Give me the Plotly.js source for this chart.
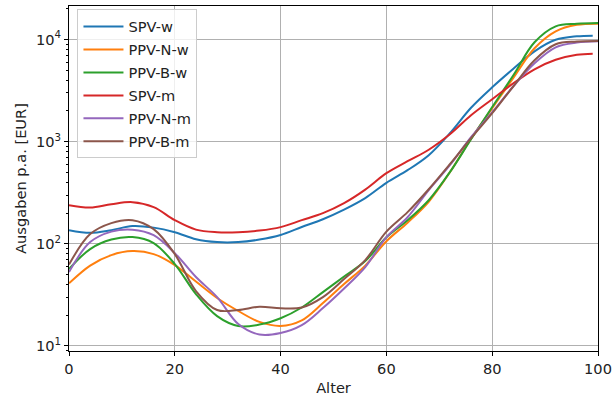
<!DOCTYPE html>
<html>
<head>
<meta charset="utf-8">
<script src="https://cdn.plot.ly/plotly-3.0.1.min.js"></script>
<style>html,body{margin:0;padding:0;background:#fff;}#chart{width:613px;height:397px;}</style>
</head>
<body>
<div id="chart"></div>
<script>
// Alter (age) sample points
const alter    = [0, 4, 8, 12, 16, 20, 24, 28, 32, 36, 40, 44, 48, 52, 56, 60, 64, 68, 72, 76, 80, 84, 88, 92, 96, 100];
const alterSPV = [0, 4, 8, 12, 16, 20, 24, 28, 32, 36, 40, 44, 48, 52, 56, 60, 64, 68, 72, 76, 80, 84, 88, 92, 96, 99];

// Ausgaben p.a. [EUR]
const spvW  = [136, 128, 136, 149, 144, 130, 111, 104, 104, 110, 122, 146, 174, 216, 280, 395, 525, 736, 1208, 2145, 3400, 5160, 7650, 9910, 10720, 10890];
const ppvNW = [41, 61.2, 77.5, 84.8, 79.3, 61.9, 42.7, 29.5, 22, 17.2, 15.7, 17.8, 26.3, 40.4, 61.2, 106, 161, 258, 502, 1067, 2120, 4210, 8190, 12000, 13890, 14270];
const ppvBW = [56.6, 88.8, 110, 116.3, 101.6, 63.3, 32.2, 19.6, 15.7, 16.2, 18.7, 23.8, 33.7, 47.8, 67.7, 116, 170, 267, 502, 1056, 2180, 4460, 9370, 13430, 14200, 14460];
const spvM  = [239, 226, 244, 255.6, 228.5, 170.4, 137.6, 130, 130, 134.6, 145.6, 170.4, 199.5, 250, 339, 491, 643, 833, 1181, 1812, 2600, 3720, 5100, 6320, 7070, 7260];
const ppvNM = [52.9, 103.9, 131.6, 137.6, 121.6, 81.1, 47.3, 30.1, 16.4, 12.95, 13.4, 16, 23.5, 36.5, 59.2, 116, 182, 335, 588, 1104, 1939, 3480, 5840, 8370, 9310, 9580];
const ppvBM = [62.6, 124.4, 159.4, 170.4, 139.2, 79.3, 34.5, 22.5, 22.5, 24.2, 23.4, 23.8, 30.1, 45.2, 69.3, 131.6, 204, 342, 601, 1079, 1895, 3480, 6250, 8960, 9520, 9650];

// y axis tick labels
const yTickVals = [10, 100, 1000, 10000];
const yTickText = ['10<sup>1</sup>', '10<sup>2</sup>', '10<sup>3</sup>', '10<sup>4</sup>'];

const names  = ['SPV-w', 'PPV-N-w', 'PPV-B-w', 'SPV-m', 'PPV-N-m', 'PPV-B-m'];
const colors = ['#1f77b4', '#ff7f0e', '#2ca02c', '#d62728', '#9467bd', '#8c564b'];
const xs     = [alterSPV, alter, alter, alterSPV, alter, alter];
const ys     = [spvW, ppvNW, ppvBW, spvM, ppvNM, ppvBM];

const traces = names.map((n, i) => ({
  type: 'scatter', mode: 'lines', name: n, legendgroup: 'g' + i,
  x: xs[i], y: ys[i],
  line: {color: colors[i], width: 2, shape: 'spline', smoothing: 1}
}));

const ff = 'DejaVu Sans, sans-serif';
const font = {family: ff, size: 14.6, color: '#222'};
const layout = {
  width: 613, height: 397,
  margin: {l: 69, r: 15, t: 6, b: 46},
  paper_bgcolor: '#fff', plot_bgcolor: '#fff',
  font: font,
  showlegend: true,
  legend: {
    x: 0.016, y: 0.99, xanchor: 'left', yanchor: 'top',
    bgcolor: 'rgba(255,255,255,0.8)', bordercolor: '#cccccc', borderwidth: 1,
    font: {family: ff, size: 14.6, color: '#222'},
    tracegroupgap: 1, itemwidth: 40
  },
  xaxis: {
    range: [0, 100], dtick: 20, tick0: 0,
    showgrid: true, gridcolor: '#b0b0b0', gridwidth: 1,
    zeroline: false, showline: true, linecolor: '#000', linewidth: 1, mirror: true,
    ticks: 'outside', ticklen: 4, tickcolor: '#000',
    tickfont: font,
    title: {text: 'Alter', font: font, standoff: 7}
  },
  yaxis: {
    type: 'log', range: [0.951, 4.327],
    tickmode: 'array', tickvals: yTickVals, ticktext: yTickText,
    showgrid: true, gridcolor: '#b0b0b0', gridwidth: 1,
    zeroline: false, showline: true, linecolor: '#000', linewidth: 1, mirror: true,
    ticks: 'outside', ticklen: 4, tickcolor: '#000',
    minor: {ticks: 'outside', ticklen: 2, tickcolor: '#000', dtick: 'D1', showgrid: false},
    tickfont: font,
    title: {text: 'Ausgaben p.a. [EUR]', font: font, standoff: 5}
  }
};

Plotly.newPlot('chart', traces, layout, {displayModeBar: false, staticPlot: true});
</script>
</body>
</html>
